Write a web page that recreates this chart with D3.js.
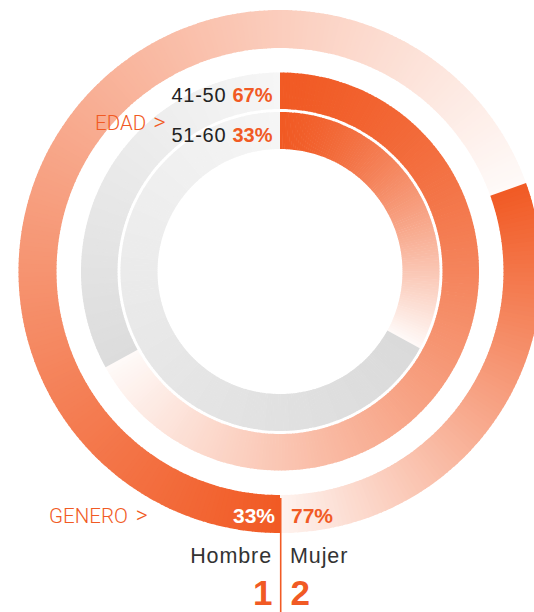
<!DOCTYPE html>
<html>
<head>
<meta charset="utf-8">
<script src="https://d3js.org/d3.v7.min.js"></script>
<style>
  html, body { margin: 0; padding: 0; background: #fff; }
  svg { display: block; }
</style>
</head>
<body>
<svg id="chart" width="534" height="612"></svg>
<script>
// --- data ---
const edadLabels = ["41-50", "51-60"];
const edadPct = [67, 33];
const generoLabels = ["Hombre", "Mujer"];
const generoCount = [1, 2];
const generoPct = [33, 77];          // percentages as printed
const generoArcPct = [69.5, 30.5];   // arc lengths as drawn in the source

const width = 534, height = 612;
const cx = 280, cy = 271.5;
const orange = "#f15a24";

const svg = d3.select("#chart");
const g = svg.append("g").attr("transform", `translate(${cx},${cy})`);

const angle = d3.scaleLinear().domain([0, 100]).range([0, 2 * Math.PI]);

// fake conic gradient: many thin slices
function gradientArc(inner, outer, a0, a1, colorAt) {
  const steps = Math.max(8, Math.ceil(Math.abs(a1 - a0) / (Math.PI / 180)));
  const arc = d3.arc().innerRadius(inner).outerRadius(outer);
  const slices = d3.range(steps).map(i => {
    const s = a0 + (a1 - a0) * i / steps;
    let e = a0 + (a1 - a0) * (i + 1) / steps;
    if (i < steps - 1) e += 0.004;
    return { s, e, t: (i + 0.5) / steps };
  });
  g.append("g").selectAll("path")
    .data(slices)
    .join("path")
    .attr("d", d => arc({ startAngle: d.s, endAngle: d.e }))
    .attr("fill", d => colorAt(d.t));
}

const fade = d3.interpolateRgb(orange, "#ffffff");

// outer ring: genero
const hStart = Math.PI;
const hEnd = hStart + angle(generoArcPct[0]);
const mEnd = hEnd + angle(generoArcPct[1]);
gradientArc(223.5, 261.5, hStart, hEnd, t => fade(t * 0.97));
gradientArc(223.5, 261.5, hEnd, mEnd, t => fade(t * 0.93));

// middle ring: 41-50
const e1 = angle(edadPct[0]);
gradientArc(162.5, 199, 0, e1, t => fade(Math.pow(t, 1.35) * 0.97));
gradientArc(162.5, 199, e1, 2 * Math.PI, d3.interpolateRgb("#dcdcdc", "#f6f6f6"));

// inner ring: 51-60
const e2 = angle(edadPct[1]);
gradientArc(122.5, 159.5, 0, e2, t => fade(Math.pow(t, 1.4) * 0.97));
gradientArc(122.5, 159.5, e2, 2 * Math.PI, d3.interpolateRgb("#dadada", "#f5f5f5"));

// divider line below the chart
svg.append("line")
  .attr("x1", cx + 0.7).attr("x2", cx + 0.7)
  .attr("y1", 498).attr("y2", height)
  .attr("stroke", orange).attr("stroke-width", 1.6);

const font = "'Liberation Sans', Arial, sans-serif";
const thin = "Roboto, 'Liberation Sans', sans-serif";

// edad labels
const edadBase = [102, 141.7];
edadLabels.forEach((lab, i) => {
  const t = svg.append("text")
    .attr("x", 272.5).attr("y", edadBase[i])
    .attr("text-anchor", "end")
    .style("font-family", font).style("font-size", "20px");
  t.append("tspan").attr("fill", "#222").style("letter-spacing", "0.7px").text(lab + " ");
  t.append("tspan").attr("fill", orange).attr("font-weight", "bold").text(edadPct[i] + "%");
});

svg.append("text")
  .attr("x", 95).attr("y", 129.5)
  .attr("fill", orange)
  .style("font-family", thin).style("font-weight", 300).style("font-size", "20.5px")
  .text("EDAD")
  .append("tspan").attr("dx", 7).style("font-size", "24px").text(">");

svg.append("text")
  .attr("x", 49).attr("y", 523)
  .attr("fill", orange)
  .style("font-family", thin).style("font-weight", 300).style("font-size", "20.5px")
  .text("GENERO")
  .append("tspan").attr("dx", 8).style("font-size", "23px").text(">");

// genero labels
const pctX = [cx - 5, cx + 11];
const nameX = [cx - 8, cx + 10];
const countX = [cx - 7.5, cx + 10.5];
const anchor = ["end", "start"];
generoLabels.forEach((lab, i) => {
  svg.append("text")
    .attr("x", pctX[i]).attr("y", 523)
    .attr("text-anchor", anchor[i])
    .attr("fill", i === 0 ? "#fff" : orange)
    .style("font-family", font).style("font-weight", "bold").style("font-size", "21px")
    .text(generoPct[i] + "%");

  svg.append("text")
    .attr("x", nameX[i]).attr("y", 563.3)
    .attr("text-anchor", anchor[i])
    .attr("fill", "#333")
    .style("font-family", font).style("font-size", "21.5px")
    .style("letter-spacing", "0.9px")
    .text(lab);

  svg.append("text")
    .attr("x", countX[i]).attr("y", 604.5)
    .attr("text-anchor", anchor[i])
    .attr("fill", orange)
    .style("font-family", font).style("font-weight", "bold").style("font-size", "35px")
    .text(generoCount[i]);
});
</script>
</body>
</html>
